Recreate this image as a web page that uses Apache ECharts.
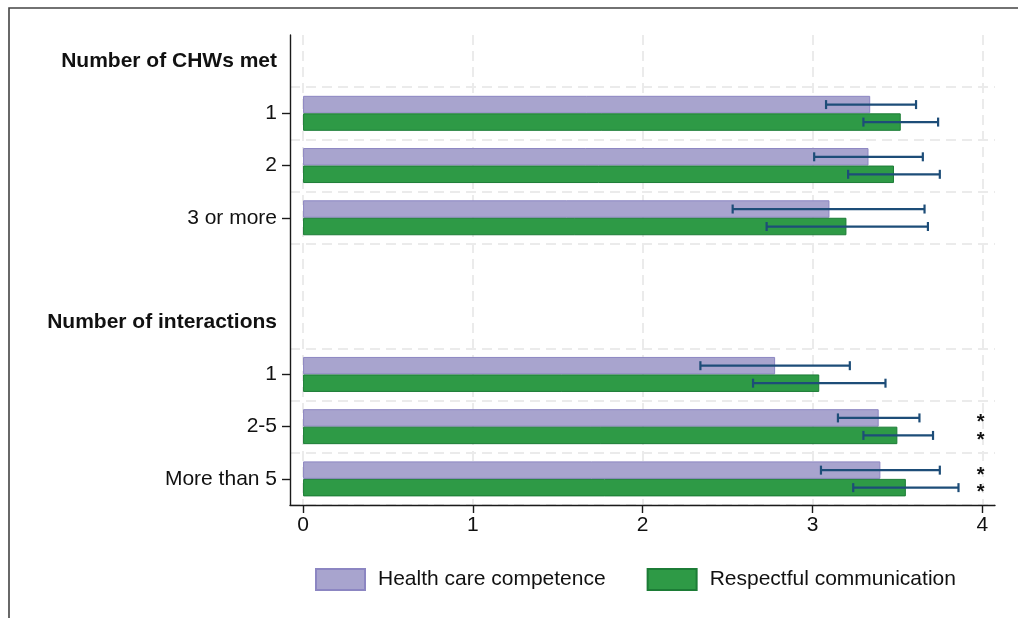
<!DOCTYPE html>
<html>
<head>
<meta charset="utf-8">
<script src="https://cdn.jsdelivr.net/npm/echarts@6/dist/echarts.min.js"></script>
<style>
  html, body { margin: 0; padding: 0; background: #fff; }
  #chart { width: 1018px; height: 618px; }
</style>
</head>
<body>
<div id="chart"></div>
<script>
// categories, top to bottom (headers and a blank spacer row included)
var categories = ['Number of CHWs met', '1', '2', '3 or more', '', 'Number of interactions', '1', '2-5', 'More than 5'];
var headerRows = [0, 5];
var tickRows = [1, 2, 3, 6, 7, 8];
var gridRows = [1, 2, 3, 4, 6, 7, 8];

// Health care competence
var health   = [null, 3.34, 3.33, 3.10, null, null, 2.78, 3.39, 3.40];
var healthLo = [null, 3.08, 3.01, 2.53, null, null, 2.34, 3.15, 3.05];
var healthHi = [null, 3.61, 3.65, 3.66, null, null, 3.22, 3.63, 3.75];
var healthSig = [0, 0, 0, 0, 0, 0, 0, 1, 1];

// Respectful communication
var resp   = [null, 3.52, 3.48, 3.20, null, null, 3.04, 3.50, 3.55];
var respLo = [null, 3.30, 3.21, 2.73, null, null, 2.65, 3.30, 3.24];
var respHi = [null, 3.74, 3.75, 3.68, null, null, 3.43, 3.71, 3.86];
var respSig = [0, 0, 0, 0, 0, 0, 0, 1, 1];

var xTicks = [0, 1, 2, 3, 4];

var FONT = "'Liberation Sans', Arial, Helvetica, sans-serif";
var GAP = 0.33;

// error bars: [category, low, high, seriesIndex]
var errData = [];
var sigData = [];
for (var i = 0; i < categories.length; i++) {
  if (health[i] != null) errData.push([i, healthLo[i], healthHi[i], 0]);
  if (resp[i] != null) errData.push([i, respLo[i], respHi[i], 1]);
  if (healthSig[i]) sigData.push([i, 0]);
  if (respSig[i]) sigData.push([i, 1]);
}

function barOffset(api, s) {
  var band = api.size([0, 1])[1];
  var bw = band * (1 - GAP) / 2;
  return (s === 0 ? -0.5 : 0.5) * bw;
}

function renderErr(params, api) {
  var cat = api.value(0), s = api.value(3);
  var p1 = api.coord([api.value(1), cat]);
  var p2 = api.coord([api.value(2), cat]);
  var y = p1[1] + barOffset(api, s);
  var cap = 4.5;
  var st = { stroke: '#1d4d78', lineWidth: 2.2 };
  return {
    type: 'group',
    children: [
      { type: 'line', shape: { x1: p1[0], y1: y, x2: p2[0], y2: y }, style: st },
      { type: 'line', shape: { x1: p1[0], y1: y - cap, x2: p1[0], y2: y + cap }, style: st },
      { type: 'line', shape: { x1: p2[0], y1: y - cap, x2: p2[0], y2: y + cap }, style: st }
    ]
  };
}

function renderSig(params, api) {
  var cat = api.value(0), s = api.value(1);
  var p = api.coord([3.99, cat]);
  return {
    type: 'text',
    x: p[0],
    y: p[1] + barOffset(api, s) + 5,
    style: { text: '*', fill: '#111', font: 'bold 20px ' + FONT, align: 'center', verticalAlign: 'middle' }
  };
}

var dash = { color: '#ebebeb', width: 2, type: [10, 6] };

var option = {
  animation: false,
  backgroundColor: '#fff',
  textStyle: { fontFamily: FONT },
  graphic: [{
    type: 'rect',
    shape: { x: 9, y: 8, width: 1100, height: 700 },
    style: { fill: 'none', stroke: '#444', lineWidth: 1.6 },
    silent: true
  }],
  grid: { left: 290, right: 23, top: 35, bottom: 113 },
  legend: {
    left: 310, top: 563,
    itemWidth: 49, itemHeight: 21, itemGap: 41,
    icon: 'rect',
    textStyle: { fontSize: 21, color: '#111', fontFamily: FONT, padding: [0, 0, 0, 8] },
    data: ['Health care competence', 'Respectful communication']
  },
  xAxis: {
    type: 'value',
    min: -0.077, max: 4.075,
    axisLine: { show: true, onZero: false, lineStyle: { color: '#1a1a1a', width: 1.4 } },
    axisTick: { show: true, length: 8, customValues: xTicks, lineStyle: { color: '#1a1a1a', width: 1.4 } },
    axisLabel: { customValues: xTicks, margin: 10, fontSize: 21, color: '#111', fontFamily: FONT },
    splitLine: { show: true, lineStyle: dash }
  },
  yAxis: {
    type: 'category',
    inverse: true,
    data: categories,
    axisLine: { show: true, onZero: false, lineStyle: { color: '#1a1a1a', width: 1.4 } },
    axisTick: {
      show: true, length: 8, alignWithLabel: true,
      interval: function (idx) { return tickRows.indexOf(idx) >= 0; },
      lineStyle: { color: '#1a1a1a', width: 1.4 }
    },
    axisLabel: {
      interval: 0, margin: 13, fontSize: 21, color: '#111', fontFamily: FONT,
      formatter: function (v, idx) {
        return headerRows.indexOf(idx) >= 0 ? '{h|' + v + '}' : v;
      },
      rich: { h: { fontWeight: 'bold', fontSize: 21, color: '#111', fontFamily: FONT } }
    },
    splitLine: {
      show: true,
      interval: function (idx) { return gridRows.indexOf(idx) >= 0; },
      lineStyle: dash
    }
  },
  series: [
    {
      name: 'Health care competence', type: 'bar',
      data: health, barGap: '0%', barCategoryGap: (GAP * 100) + '%',
      itemStyle: { color: '#a8a4ce', borderColor: '#8c86c2', borderWidth: 1 }
    },
    {
      name: 'Respectful communication', type: 'bar',
      data: resp, barGap: '0%', barCategoryGap: (GAP * 100) + '%',
      itemStyle: { color: '#2e9a46', borderColor: '#1c7c36', borderWidth: 1 }
    },
    {
      type: 'custom', renderItem: renderErr, data: errData,
      encode: { x: [1, 2], y: 0 }, clip: false, z: 5, silent: true
    },
    {
      type: 'custom', renderItem: renderSig, data: sigData,
      encode: { y: 0 }, clip: false, z: 5, silent: true
    }
  ]
};

var chart = echarts.init(document.getElementById('chart'));
chart.setOption(option);
</script>
</body>
</html>
